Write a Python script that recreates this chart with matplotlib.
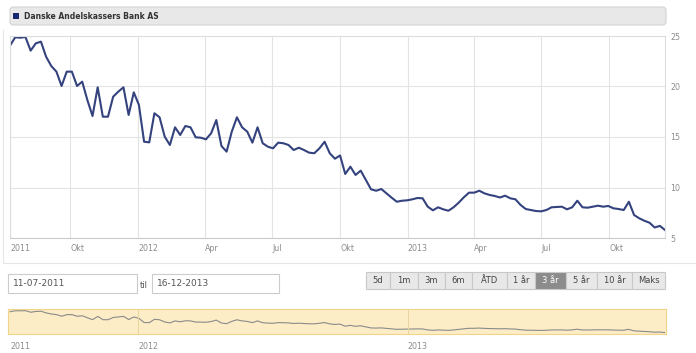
import matplotlib
matplotlib.use("Agg")
import matplotlib.pyplot as plt
from matplotlib.patches import FancyBboxPatch, Rectangle
import pandas as pd

#=======================================
# Data
#=======================================
title = "Danske Andelskassers Bank AS"
start_date = "2011-07-11"
date_from = "11-07-2011"
date_to = "16-12-2013"

# weekly closing prices
prices = [
    24.04, 24.87, 24.83, 24.90, 23.55, 24.27, 24.44, 22.95, 22.03, 21.47,
    20.05, 21.47, 21.47, 20.05, 20.48, 18.66, 17.08, 19.92, 17.01, 17.01,
    18.99, 19.49, 19.92, 17.18, 19.42, 18.17, 14.53, 14.47, 17.35, 16.95,
    15.03, 14.21,
    15.96, 15.20, 16.09, 15.96, 14.97, 14.93, 14.77, 15.37, 16.68, 14.11,
    13.55, 15.53, 16.95, 15.96, 15.53, 14.44, 15.96, 14.38, 14.04, 13.88,
    14.44, 14.38, 14.21, 13.71, 13.94, 13.71, 13.45, 13.39, 13.88, 14.53,
    13.39, 12.85, 13.17,
    11.34, 12.06, 11.24, 11.67, 10.74, 9.82, 9.68, 9.85, 9.42, 8.99,
    8.59, 8.69, 8.73, 8.83, 8.96, 8.93, 8.10, 7.74, 8.04, 7.84,
    7.70, 8.04, 8.50, 9.03, 9.49, 9.49, 9.68, 9.42, 9.26, 9.16,
    9.01,
    9.19, 8.93, 8.83, 8.27, 7.87, 7.77, 7.67, 7.64, 7.77, 8.04,
    8.07, 8.10, 7.84, 8.04, 8.69, 8.04, 8.00, 8.10, 8.20, 8.10,
    8.17, 7.94, 7.87, 7.77, 8.59, 7.28, 6.95, 6.71, 6.51, 6.04,
    6.20, 5.79,
]
dates = pd.date_range(start_date, periods=len(prices), freq="7D")

month_ticks = ["2011-10-01", "2012-01-01", "2012-04-01", "2012-07-01", "2012-10-01",
               "2013-01-01", "2013-04-01", "2013-07-01", "2013-10-01"]
month_labels = ["Okt", "2012", "Apr", "Jul", "Okt", "2013", "Apr", "Jul", "Okt"]
y_ticks = [5, 10, 15, 20, 25]
nav_ticks = ["2012-01-01", "2013-01-01"]
nav_labels = ["2011", "2012", "2013"]
buttons = ["5d", "1m", "3m", "6m", "ÅTD", "1 år", "3 år", "5 år", "10 år", "Maks"]
selected = "3 år"

#=======================================
# Figure
#=======================================
W, H = 696, 353
fig = plt.figure(figsize=(W / 100, H / 100), dpi=100)
fig.patch.set_facecolor("white")

def px_axes(x0, y0, x1, y1):
    return fig.add_axes([x0 / W, 1 - y1 / H, (x1 - x0) / W, (y1 - y0) / H])

label_color = "#8c8c8c"
grid_color = "#e3e3e3"

# background overlay for the widget parts
bg = px_axes(0, 0, W, H)
bg.set_xlim(0, W)
bg.set_ylim(H, 0)
bg.axis("off")

bg.add_patch(FancyBboxPatch((10, 7), 656, 18, boxstyle="round,pad=0,rounding_size=3",
                            fc="#e8e8e8", ec="#d4d4d4", lw=0.8))
bg.add_patch(Rectangle((13, 12.5), 6, 6, fc="#14286b", ec="none"))
bg.text(24, 16.5, title, fontsize=5.5, fontweight="bold", color="#333333", va="center")
bg.plot([2.5, 2.5], [30, 262], color="#e6e6e6", lw=0.8)
bg.plot([2.5, W], [262.5, 262.5], color="#e6e6e6", lw=0.8)

# date inputs
bg.add_patch(Rectangle((8, 274), 129, 19, fc="white", ec="#cccccc", lw=0.8))
bg.text(13, 283.5, date_from, fontsize=6.5, color="#555555", va="center")
bg.text(140, 285.5, "til", fontsize=6, color="#555555", va="center")
bg.add_patch(Rectangle((152, 274), 127, 19, fc="white", ec="#cccccc", lw=0.8))
bg.text(157, 283.5, date_to, fontsize=6.5, color="#555555", va="center")

# range buttons
edges = [366, 390, 418, 445, 472, 507, 535, 566, 597, 632, 665]
for i, b in enumerate(buttons):
    x0, x1 = edges[i], edges[i + 1]
    on = b == selected
    bg.add_patch(Rectangle((x0, 272), x1 - x0, 17, fc="#8c8c8c" if on else "#e8e8e8",
                           ec="#c8c8c8", lw=0.8))
    bg.text((x0 + x1) / 2, 280.5, b, fontsize=6, color="white" if on else "#444444",
            ha="center", va="center")

#=======================================
# Main chart
#=======================================
ax = px_axes(10, 36, 665, 238)
ax.plot(dates, prices, color="#34437e", lw=1.5, solid_joinstyle="round")
ax.set_xlim(dates[0], dates[-1])
ax.set_ylim(5, 25)
ax.set_xticks([dates[0]] + [pd.Timestamp(d) for d in month_ticks])
ax.set_xticklabels(["2011"] + month_labels, ha="left", fontsize=5.7, color=label_color)
ax.set_yticks(y_ticks)
ax.set_yticklabels([str(v) for v in y_ticks], fontsize=5.7, color=label_color)
ax.yaxis.tick_right()
ax.tick_params(axis="x", length=0, pad=4)
ax.tick_params(axis="y", length=0, pad=4)
ax.grid(True, color=grid_color, lw=0.8)
ax.set_axisbelow(True)
for s in ["left", "right", "top"]:
    ax.spines[s].set_color("#dddddd")
    ax.spines[s].set_linewidth(0.8)
ax.spines["bottom"].set_color("#cccccc")
ax.spines["bottom"].set_linewidth(0.8)

#=======================================
# Navigator
#=======================================
nav = px_axes(8, 309, 666, 334)
nav.set_facecolor("#fcedc7")
nav.plot(dates, prices, color="#8a8a8a", lw=0.8)
nav.set_xlim(dates[0] - pd.Timedelta(days=3), dates[-1] + pd.Timedelta(days=2))
nav.set_ylim(min(prices) - 1.3, max(prices) + 1.5)
for d in nav_ticks:
    nav.axvline(pd.Timestamp(d), color="#e9d59f", lw=0.7)
nav.set_xticks([dates[0]] + [pd.Timestamp(d) for d in nav_ticks])
nav.set_xticklabels(nav_labels, ha="left", fontsize=5.7, color=label_color)
nav.tick_params(axis="x", length=0, pad=6)
nav.set_yticks([])
for s in nav.spines.values():
    s.set_color("#efd48a")
    s.set_linewidth(0.8)

fig.savefig("out.png", dpi=100, facecolor="white")
